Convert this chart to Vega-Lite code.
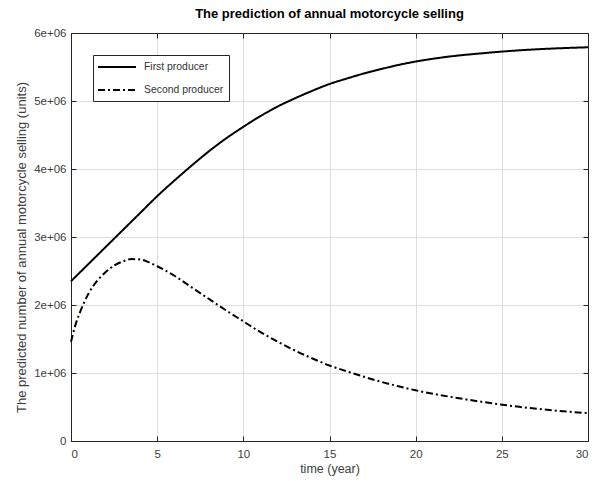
{
  "$schema": "https://vega.github.io/schema/vega-lite/v6.json",
  "width": 517,
  "height": 408,
  "autosize": {"type": "none"},
  "padding": {"left": 71, "top": 33, "right": 7, "bottom": 40},
  "background": "white",
  "title": {"text": "The prediction of annual motorcycle selling", "fontSize": 13, "fontWeight": "bold", "font": "Liberation Sans", "color": "#000", "offset": 6, "anchor": "middle"},
  "config": {
    "view": {"stroke": "#262626", "strokeWidth": 1},
    "font": "Liberation Sans",
    "axis": {"labelFont": "Liberation Sans", "titleFont": "Liberation Sans", "labelColor": "#404040", "titleColor": "#404040", "labelFontSize": 11.5, "titleFontSize": 12.5, "titleFontWeight": "normal", "domainColor": "#262626", "tickColor": "#262626", "gridColor": "#dedede", "gridWidth": 1}
  },
  "datasets": {
    "sales": [
      {"t": 0, "v": 2350000, "series": "First producer"},
      {"t": 1, "v": 2600000, "series": "First producer"},
      {"t": 2, "v": 2850000, "series": "First producer"},
      {"t": 3, "v": 3100000, "series": "First producer"},
      {"t": 4, "v": 3350000, "series": "First producer"},
      {"t": 5, "v": 3600000, "series": "First producer"},
      {"t": 6, "v": 3830000, "series": "First producer"},
      {"t": 7, "v": 4050000, "series": "First producer"},
      {"t": 8, "v": 4260000, "series": "First producer"},
      {"t": 9, "v": 4450000, "series": "First producer"},
      {"t": 10, "v": 4620000, "series": "First producer"},
      {"t": 11, "v": 4780000, "series": "First producer"},
      {"t": 12, "v": 4920000, "series": "First producer"},
      {"t": 13, "v": 5040000, "series": "First producer"},
      {"t": 14, "v": 5150000, "series": "First producer"},
      {"t": 15, "v": 5250000, "series": "First producer"},
      {"t": 16, "v": 5330000, "series": "First producer"},
      {"t": 17, "v": 5405000, "series": "First producer"},
      {"t": 18, "v": 5470000, "series": "First producer"},
      {"t": 19, "v": 5530000, "series": "First producer"},
      {"t": 20, "v": 5580000, "series": "First producer"},
      {"t": 22, "v": 5655000, "series": "First producer"},
      {"t": 24, "v": 5705000, "series": "First producer"},
      {"t": 26, "v": 5745000, "series": "First producer"},
      {"t": 28, "v": 5772000, "series": "First producer"},
      {"t": 30, "v": 5790000, "series": "First producer"},
      {"t": 0, "v": 1460000, "series": "Second producer"},
      {"t": 0.25, "v": 1700000, "series": "Second producer"},
      {"t": 0.5, "v": 1880000, "series": "Second producer"},
      {"t": 0.75, "v": 2030000, "series": "Second producer"},
      {"t": 1, "v": 2160000, "series": "Second producer"},
      {"t": 1.5, "v": 2350000, "series": "Second producer"},
      {"t": 2, "v": 2480000, "series": "Second producer"},
      {"t": 2.5, "v": 2580000, "series": "Second producer"},
      {"t": 3, "v": 2640000, "series": "Second producer"},
      {"t": 3.5, "v": 2675000, "series": "Second producer"},
      {"t": 4, "v": 2670000, "series": "Second producer"},
      {"t": 4.5, "v": 2630000, "series": "Second producer"},
      {"t": 5, "v": 2570000, "series": "Second producer"},
      {"t": 6, "v": 2430000, "series": "Second producer"},
      {"t": 7, "v": 2260000, "series": "Second producer"},
      {"t": 8, "v": 2090000, "series": "Second producer"},
      {"t": 9, "v": 1920000, "series": "Second producer"},
      {"t": 10, "v": 1760000, "series": "Second producer"},
      {"t": 11, "v": 1600000, "series": "Second producer"},
      {"t": 12, "v": 1460000, "series": "Second producer"},
      {"t": 13, "v": 1330000, "series": "Second producer"},
      {"t": 14, "v": 1215000, "series": "Second producer"},
      {"t": 15, "v": 1110000, "series": "Second producer"},
      {"t": 16, "v": 1025000, "series": "Second producer"},
      {"t": 17, "v": 945000, "series": "Second producer"},
      {"t": 18, "v": 870000, "series": "Second producer"},
      {"t": 19, "v": 805000, "series": "Second producer"},
      {"t": 20, "v": 745000, "series": "Second producer"},
      {"t": 22, "v": 650000, "series": "Second producer"},
      {"t": 24, "v": 570000, "series": "Second producer"},
      {"t": 26, "v": 502000, "series": "Second producer"},
      {"t": 28, "v": 450000, "series": "Second producer"},
      {"t": 30, "v": 410000, "series": "Second producer"}
    ]
  },
  "data": {"name": "sales"},
  "layer": [
    {
      "mark": {"type": "line", "color": "#000", "strokeWidth": 2, "interpolate": "monotone"},
      "encoding": {
        "x": {"field": "t", "type": "quantitative", "title": "time (year)",
          "scale": {"domain": [0, 30], "nice": false, "zero": false},
          "axis": {"orient": "bottom", "values": [0, 5, 10, 15, 20, 25, 30], "grid": true, "tickSize": -5, "labelPadding": 12, "titlePadding": 3}},
        "y": {"field": "v", "type": "quantitative", "title": "The predicted number of annual motorcycle selling (units)",
          "scale": {"domain": [0, 6000000], "nice": false},
          "axis": {"orient": "left", "values": [0, 1000000, 2000000, 3000000, 4000000, 5000000, 6000000], "grid": true, "tickSize": -5, "labelPadding": 10, "titlePadding": 5, "titleFontSize": 13, "titleY": 214,
            "labelExpr": "datum.value == 0 ? '0' : format(datum.value / 1000000, 'd') + 'e+06'"}},
        "strokeDash": {"field": "series", "type": "nominal",
          "scale": {"domain": ["First producer", "Second producer"], "range": [[1, 0], [7, 3, 2, 3]]},
          "legend": {"title": null, "orient": "none", "legendX": 22, "legendY": 22, "fillColor": "white", "strokeColor": "#262626", "padding": 5,
            "symbolType": "M-1.17,0H5.17", "symbolStrokeColor": "#000", "symbolStrokeWidth": 2, "symbolSize": 144,
            "labelFontSize": 10.4, "labelColor": "#333", "labelFont": "Liberation Sans", "rowPadding": 10, "labelOffset": 32}}
      }
    },
    {
      "mark": {"type": "line", "opacity": 0},
      "encoding": {
        "x": {"field": "t", "type": "quantitative", "axis": {"orient": "top", "values": [0, 5, 10, 15, 20, 25, 30], "labels": false, "title": null, "grid": false, "tickSize": -5, "domain": true}},
        "y": {"field": "v", "type": "quantitative", "axis": {"orient": "right", "values": [0, 1000000, 2000000, 3000000, 4000000, 5000000, 6000000], "labels": false, "title": null, "grid": false, "tickSize": -5, "domain": true}},
        "detail": {"field": "series"}
      }
    }
  ],
  "resolve": {"axis": {"x": "independent", "y": "independent"}}
}
